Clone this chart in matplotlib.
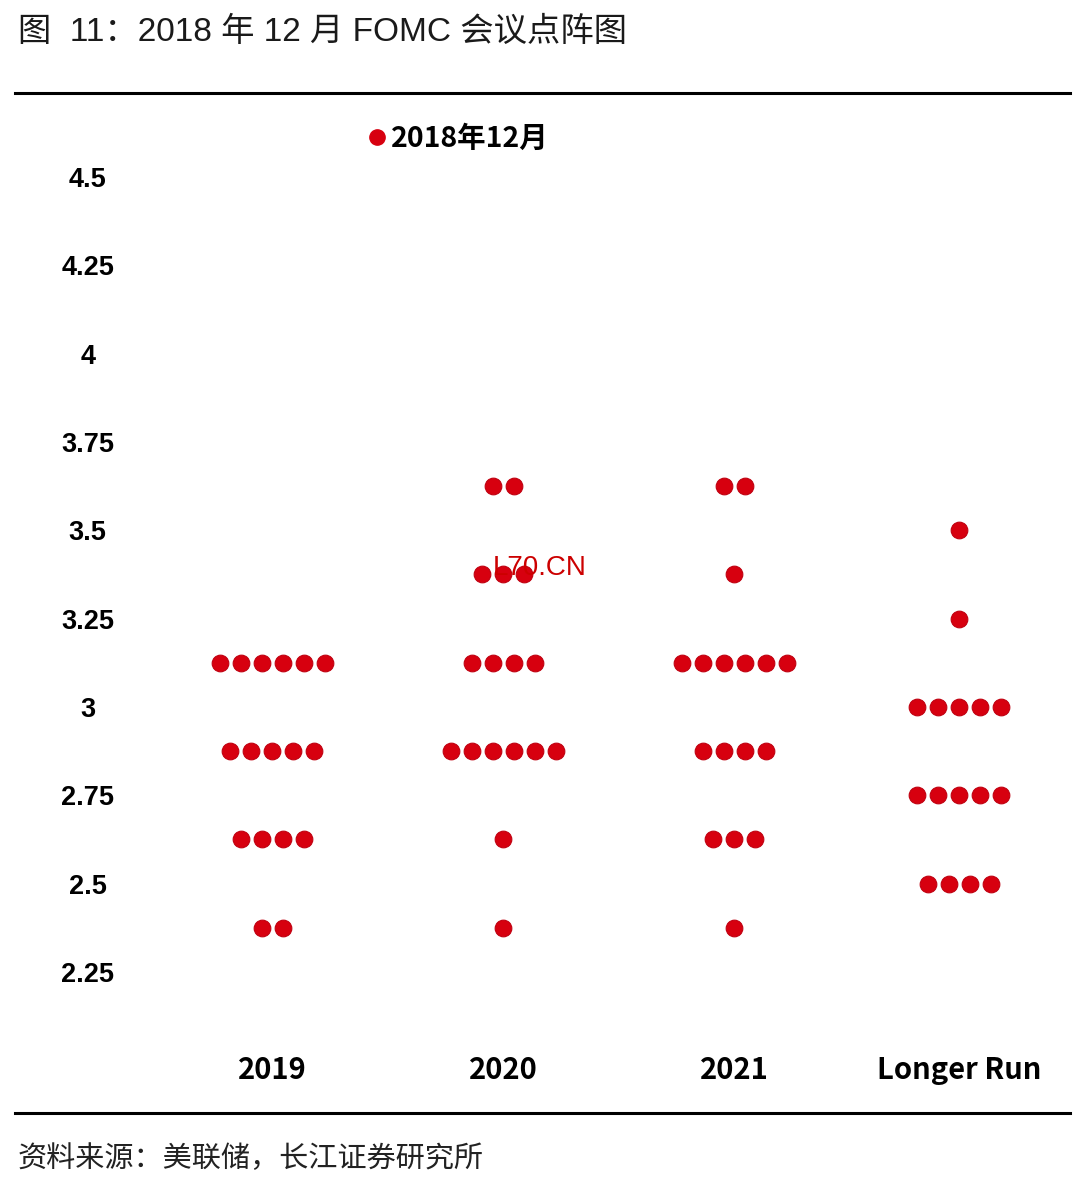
import matplotlib.pyplot as plt
from matplotlib.lines import Line2D

# dot plot data: rate level -> number of participants
categories = ['2019', '2020', '2021', 'Longer Run']
levels_2019 = [3.125, 2.875, 2.625, 2.375]
counts_2019 = [6, 5, 4, 2]
levels_2020 = [3.625, 3.375, 3.125, 2.875, 2.625, 2.375]
counts_2020 = [2, 3, 4, 6, 1, 1]
levels_2021 = [3.625, 3.375, 3.125, 2.875, 2.625, 2.375]
counts_2021 = [2, 1, 6, 4, 3, 1]
levels_lr = [3.5, 3.25, 3.0, 2.75, 2.5]
counts_lr = [1, 1, 5, 5, 4]
yticks = [2.25, 2.5, 2.75, 3, 3.25, 3.5, 3.75, 4, 4.25, 4.5]
ytick_labels = ['2.25', '2.5', '2.75', '3', '3.25', '3.5', '3.75', '4', '4.25', '4.5']

series = [(levels_2019, counts_2019), (levels_2020, counts_2020),
          (levels_2021, counts_2021), (levels_lr, counts_lr)]

red = '#d7000f'
cjk = ['Noto Sans CJK SC', 'DejaVu Sans']

fig = plt.figure(figsize=(10.8, 11.96), dpi=100)
W, H = 1080, 1196

# title, rules and source
fig.text(18 / W, 1 - 32 / H, '图  11：2018 年 12 月 FOMC 会议点阵图', fontsize=24,
         family=['Liberation Sans', 'Noto Sans CJK SC'], color='#1a1a1a', va='center', ha='left')
fig.add_artist(Line2D([15 / W, 1070 / W], [1 - 93 / H, 1 - 93 / H], color='black', lw=2.2))
fig.add_artist(Line2D([15 / W, 1070 / W], [1 - 1113 / H, 1 - 1113 / H], color='black', lw=2.2))
fig.text(18 / W, 1 - 1159 / H, '资料来源：美联储，长江证券研究所', fontsize=21,
         family=cjk, color='#222222', va='center', ha='left')

# plot area
left, right, top, bottom = 160, 1070, 100, 1040
ax = fig.add_axes([left / W, 1 - bottom / H, (right - left) / W, (bottom - top) / H])
ax.set_facecolor('none')

step = 21 / 231
xpos = [0, 1, 2, 2.975]
for x0, (levels, counts) in zip(xpos, series):
    for lv, n in zip(levels, counts):
        xs = [x0 + (k - (n - 1) / 2) * step for k in range(n)]
        ax.plot(xs, [lv] * n, 'o', color=red, ms=12, mec='#c00010', mew=0.8,
                ls='none', zorder=3)

ax.set_xlim((160 - 272) / 231, (1070 - 272) / 231)
ax.set_ylim(4.5 - (bottom - 177) / 353.3, 4.5 + (177 - top) / 353.3)

ax.set_yticks(yticks)
ax.set_yticklabels(ytick_labels, fontsize=19.5, fontweight='bold',
                   family='Liberation Sans', ha='center')
ax.tick_params(axis='y', length=0, pad=52)
ax.set_xticks(xpos)
ax.set_xticklabels(categories, fontsize=21, fontweight='bold', family=cjk)
ax.tick_params(axis='x', length=0, pad=11)
for s in ax.spines.values():
    s.set_visible(False)

# legend
h = Line2D([], [], marker='o', ls='none', color=red, ms=11)
ax.legend([h], ['2018年12月'], loc='center left', bbox_to_anchor=(0.2225, 0.9585),
          frameon=False, handletextpad=0.0, handlelength=1, borderpad=0,
          borderaxespad=0, prop={'family': cjk, 'weight': 'bold', 'size': 20.5})

# watermark
fig.text(493 / W, 1 - 568 / H, 'L70.CN', fontsize=20, color='#cc0000',
         family='Liberation Sans', va='center', ha='left', zorder=1)

fig.savefig('out.png', dpi=100, facecolor='white')
